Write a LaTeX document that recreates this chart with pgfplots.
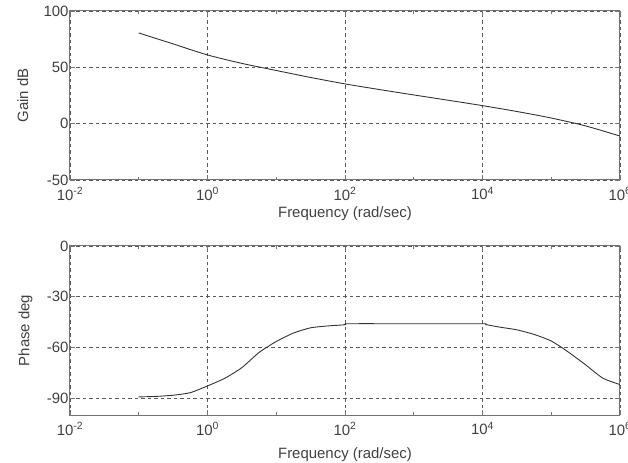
\documentclass[border=0pt]{standalone}
\usepackage{fontspec}
\setmainfont{Liberation Sans}
\usepackage{pgfplots}
\pgfplotsset{compat=1.18}
\definecolor{boxc}{gray}{0.45}
\definecolor{gridc}{gray}{0.35}
\definecolor{curvec}{gray}{0.2}
\definecolor{txtc}{gray}{0.25}
\begin{document}
\begin{tikzpicture}
\path[use as bounding box] (0,0) rectangle (628bp,463bp);
\begin{axis}[xmode=log, log basis x=10,
    scale only axis, width=550bp, height=169bp,
    xmin=1e-2, xmax=1e6,
    xtick={1e-2,1,1e2,1e4,1e6},
    xticklabels={10\textsuperscript{-2},10\textsuperscript{0},10\textsuperscript{2},10\textsuperscript{4},10\textsuperscript{6}},
    minor xtick={1e-1,1e1,1e3,1e5},
    tick align=inside,
    major tick length=5bp, minor tick length=3bp,
    every tick/.append style={boxc, line width=0.6pt},
    grid=major,
    major grid style={gridc, line width=0.6pt, dash pattern=on 3.5bp off 3bp},
    axis line style={boxc, line width=1pt},
    tick label style={font=\fontsize{15}{17}\selectfont, text=txtc},
    xticklabel style={yshift=-4bp},
    yticklabel style={xshift=2bp},
    label style={font=\fontsize{15}{17}\selectfont, text=txtc},
    xlabel={Frequency (rad/sec)},
  at={(70bp,283bp)}, anchor=south west,
  ymin=-50, ymax=100, ytick={-50,0,50,100},
  ylabel={Gain dB},
  ylabel style={at={(axis description cs:-0.086,0.5)}, anchor=center},
  xlabel style={at={(axis description cs:0.5,-0.2)}, anchor=center},
  /pgf/number format/assume math mode=true]
\addplot[curvec, line width=0.9pt, smooth] coordinates {
(1e-1,80.5) (3.16e-1,70.8) (1,61) (3.16,53.5) (10,47.2) (31.6,41) (100,35.3)
(316,30.3) (1000,25.5) (3162,20.8) (1e4,16) (3.16e4,10.8) (1e5,5) (3.16e5,-2) (1e6,-11)
};
\end{axis}
\begin{axis}[xmode=log, log basis x=10,
    scale only axis, width=550bp, height=169bp,
    xmin=1e-2, xmax=1e6,
    xtick={1e-2,1,1e2,1e4,1e6},
    xticklabels={10\textsuperscript{-2},10\textsuperscript{0},10\textsuperscript{2},10\textsuperscript{4},10\textsuperscript{6}},
    minor xtick={1e-1,1e1,1e3,1e5},
    tick align=inside,
    major tick length=5bp, minor tick length=3bp,
    every tick/.append style={boxc, line width=0.6pt},
    grid=major,
    major grid style={gridc, line width=0.6pt, dash pattern=on 3.5bp off 3bp},
    axis line style={boxc, line width=1pt},
    tick label style={font=\fontsize{15}{17}\selectfont, text=txtc},
    xticklabel style={yshift=-4bp},
    yticklabel style={xshift=2bp},
    label style={font=\fontsize{15}{17}\selectfont, text=txtc},
    xlabel={Frequency (rad/sec)},
  at={(70bp,48bp)}, anchor=south west,
  ymin=-100, ymax=0, ytick={-90,-60,-30,0},
  ylabel={Phase deg},
  ylabel style={at={(axis description cs:-0.081,0.5)}, anchor=center},
  xlabel style={at={(axis description cs:0.5,-0.235)}, anchor=center},
  /pgf/number format/assume math mode=true]
\addplot[curvec, line width=0.9pt, smooth, tension=0.35] coordinates {
(0.1,-89.3) (0.178,-89.0) (0.316,-88.3) (0.562,-86.8) (1,-82.8) (1.78,-78.3)
(3.16,-72) (5.62,-63) (10,-56.5) (17.8,-51.5) (31.6,-48.4) (56.2,-47.3) (100,-46.6)
(112,-46) (1e3,-46) (1e4,-46) (1.12e4,-46.5) (1.78e4,-48) (3.16e4,-49.6)
(5.62e4,-52.3) (1e5,-56.2) (1.78e5,-62.8) (3.16e5,-70.3) (5.62e5,-78.2) (1e6,-82)
};
\end{axis}
\end{tikzpicture}
\end{document}
